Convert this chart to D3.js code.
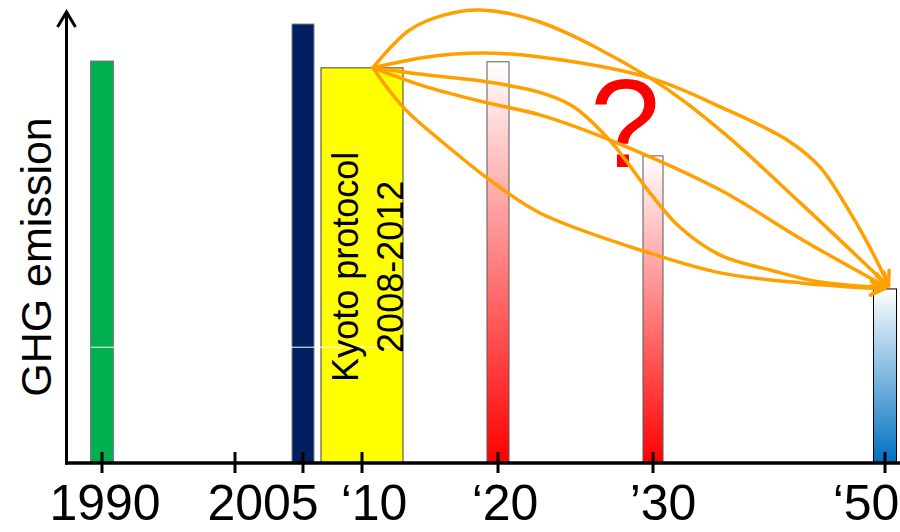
<!DOCTYPE html>
<html>
<head>
<meta charset="utf-8">
<script src="https://cdn.jsdelivr.net/npm/d3@7"></script>
<style>
  html, body { margin: 0; padding: 0; background: #fff; }
  svg { display: block; }
  text { font-family: "Liberation Sans", Arial, sans-serif; }
</style>
</head>
<body>
<svg id="chart" width="900" height="532"></svg>
<script>
// ---- data ----
const tickYears = [1990, 2000, 2005, 2010, 2020, 2030, 2050];
const tickLabels = ["1990", "", "2005", "\u201810", "\u201820", "\u201930", "\u201850"];
const barYears = [1990, 2005, 2010, 2020, 2030, 2050];
const barValues = [100, 109.2, 98.3, 99.8, 76.4, 43.3];
const barKinds = ["green", "navy", "kyoto", "red", "red", "blue"];
const yTitle = "GHG emission";
const kyotoLines = ["Kyoto protocol", "2008-2012"];
const pathA = [[2010.8,98.3],[2013.5,107.7],[2016,111.4],[2018.7,112.7],[2022.7,109.7],[2029.8,95.8],[2035.8,82.8],[2042.7,64.7],[2050.3,44.0]];
const pathB = [[2010.8,98.3],[2014.8,101],[2018.7,102],[2022.7,101],[2029.8,95.8],[2035.8,88.6],[2041.6,80.3],[2044.4,73.6],[2046.7,63.7],[2048.5,54.7],[2050.3,44.3]];
const pathC = [[2010.8,98.3],[2014.8,96.5],[2019.2,94.8],[2022.7,92.2],[2024.8,88.8],[2027.2,80.3],[2029.8,67.2],[2032.3,58.7],[2035.8,51.7],[2040.1,48.0],[2044.4,45.0],[2050.0,43.6]];
const pathD = [[2010.8,98.3],[2014.8,93.5],[2019.2,89.6],[2022.7,86.6],[2027.7,79.6],[2035.8,67.9],[2042.9,55.5],[2050.0,44.0]];
const pathE = [[2010.8,98.3],[2013.0,88.6],[2016.0,79.6],[2019.6,69.9],[2022.7,62.2],[2029.8,52.2],[2035.8,47.3],[2042.7,44.8],[2049.9,43.3]];
const pathways = [pathA, pathB, pathC, pathD, pathE];
const bandValue = 28.8;   // thin white rule seen across the early bars
const axisTopValue = 112.2;

// ---- layout ----
const svg = d3.select("#chart");
const x = d3.scaleLinear().domain(tickYears).range([102, 235, 303, 362, 498, 653, 885]);
const y = d3.scaleLinear().domain([0, 100]).range([463, 61]);
const axisX0 = 66.5;
const barWidths = [23, 22, 82, 22, 20, 23];
const labelDx = [3, 0, -40, 12, 7, 10, -19];
const orange = "#FFA000";

const defs = svg.append("defs");
const redGrad = defs.append("linearGradient").attr("id", "gRed")
  .attr("x1", 0).attr("y1", 0).attr("x2", 0).attr("y2", 1);
redGrad.append("stop").attr("offset", "0%").attr("stop-color", "#ffffff");
redGrad.append("stop").attr("offset", "100%").attr("stop-color", "#ff0000");
const blueGrad = defs.append("linearGradient").attr("id", "gBlue")
  .attr("x1", 0).attr("y1", 0).attr("x2", 0).attr("y2", 1);
blueGrad.append("stop").attr("offset", "0%").attr("stop-color", "#ffffff");
blueGrad.append("stop").attr("offset", "100%").attr("stop-color", "#0070c0");

defs.append("marker").attr("id", "arrow")
  .attr("markerUnits", "userSpaceOnUse")
  .attr("viewBox", "-18 -10 22 20")
  .attr("markerWidth", 22).attr("markerHeight", 20)
  .attr("refX", 0).attr("refY", 0)
  .attr("orient", "auto")
  .append("path")
  .attr("d", "M-13,-7 L0,0 L-13,7")
  .attr("fill", "none").attr("stroke", orange)
  .attr("stroke-width", 3.5).attr("stroke-linecap", "round").attr("stroke-linejoin", "round");

const fills = { green: "#00b050", navy: "#002060", kyoto: "#ffff00", red: "url(#gRed)", blue: "url(#gBlue)" };
const strokes = { green: "#7f7f7f", navy: "#7f7f7f", kyoto: "#404040", red: "#595959", blue: "#000000" };

// bars
svg.append("g").selectAll("rect")
  .data(barYears.map((yr, i) => ({ yr, v: barValues[i], k: barKinds[i], w: barWidths[i] })))
  .join("rect")
  .attr("x", d => x(d.yr) - d.w / 2)
  .attr("y", d => y(d.v))
  .attr("width", d => d.w)
  .attr("height", d => y(0) - y(d.v))
  .attr("fill", d => fills[d.k])
  .attr("stroke", d => strokes[d.k])
  .attr("stroke-width", 1);

// thin white rule
svg.append("line")
  .attr("x1", x(1990) - 11).attr("x2", x(2010) + 40)
  .attr("y1", y(bandValue)).attr("y2", y(bandValue))
  .attr("stroke", "#ffffff").attr("stroke-width", 1);

// Kyoto label
const kx = x(2010);
const kyotoText = svg.append("text")
  .attr("transform", `translate(${kx - 4},${y(48.8)}) rotate(-90)`)
  .attr("text-anchor", "middle")
  .attr("font-size", 36)
  .attr("fill", "#000");
kyotoText.selectAll("tspan").data(kyotoLines).join("tspan")
  .attr("x", 0).attr("dy", (d, i) => i === 0 ? 0 : 45)
  .text(d => d);

// question mark
svg.append("text")
  .attr("x", x(2028.2)).attr("y", y(73.6))
  .attr("text-anchor", "middle")
  .attr("font-size", 126)
  .attr("fill", "#ff0000")
  .text("?");

// pathways
const line = d3.line().x(d => x(d[0])).y(d => y(d[1])).curve(d3.curveCatmullRom.alpha(0.5));
svg.append("g").selectAll("path")
  .data(pathways)
  .join("path")
  .attr("d", line)
  .attr("fill", "none")
  .attr("stroke", orange)
  .attr("stroke-width", 3.5)
  .attr("stroke-linecap", "round")
  .attr("marker-end", "url(#arrow)");

// axes
svg.append("line")
  .attr("x1", axisX0).attr("x2", axisX0)
  .attr("y1", y(0) + 1.5).attr("y2", y(axisTopValue))
  .attr("stroke", "#000").attr("stroke-width", 3);
svg.append("path")
  .attr("d", `M${axisX0 - 9},${y(axisTopValue) + 15} L${axisX0},${y(axisTopValue)} L${axisX0 + 9},${y(axisTopValue) + 15}`)
  .attr("fill", "none").attr("stroke", "#000").attr("stroke-width", 3);
svg.append("line")
  .attr("x1", axisX0 - 1.5).attr("x2", 900)
  .attr("y1", y(0)).attr("y2", y(0))
  .attr("stroke", "#000").attr("stroke-width", 3.5);

const ticks = svg.append("g");
ticks.selectAll("line").data(tickYears).join("line")
  .attr("x1", d => x(d)).attr("x2", d => x(d))
  .attr("y1", y(0) - 11).attr("y2", y(0) + 10)
  .attr("stroke", "#000").attr("stroke-width", 3);
ticks.selectAll("text").data(tickYears).join("text")
  .attr("x", (d, i) => x(d) + labelDx[i])
  .attr("y", 520)
  .attr("text-anchor", "middle")
  .attr("font-size", 50)
  .attr("fill", "#000")
  .text((d, i) => tickLabels[i]);

// y title
svg.append("text")
  .attr("transform", `translate(51,257) rotate(-90)`)
  .attr("text-anchor", "middle")
  .attr("font-size", 43)
  .attr("fill", "#000")
  .text(yTitle);
</script>
</body>
</html>
